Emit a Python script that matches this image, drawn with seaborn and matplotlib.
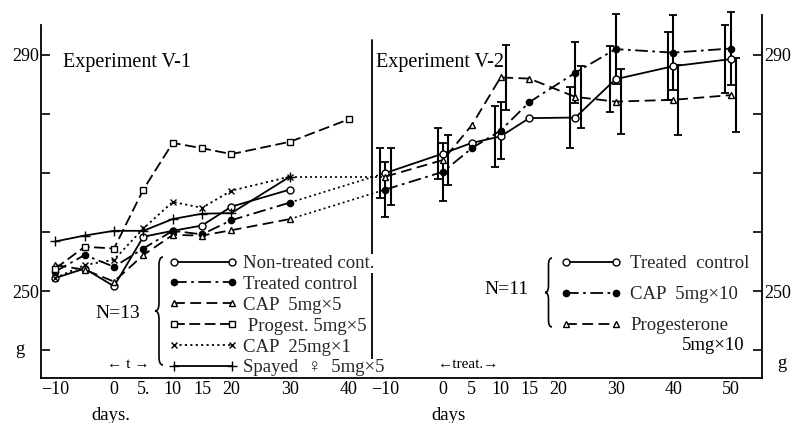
import numpy as np
import pandas as pd
import seaborn as sns
import matplotlib.pyplot as plt
from matplotlib.path import Path
from matplotlib.patches import PathPatch

# Experiment V-1 (N=13), body weight in g
days_v1 = [-10, -5, 0, 5, 10, 15, 20, 30]
nontreated_v1 = [252.2, 253.8, 250.8, 259.2, 260.2, 261.1, 264.3, 267.2]
treated_v1 = [253.3, 256.1, 254.1, 257.2, 260.2, 259.6, 262.0, 265.0]
cap5_v1 = [254.4, 253.6, 251.6, 256.1, 259.5, 259.4, 260.3, 262.2]
progest_days_v1 = [-10, -5, 0, 5, 10, 15, 20, 30, 40]
progest_v1 = [253.8, 257.5, 257.2, 267.2, 275.1, 274.2, 273.2, 275.3, 279.1]
cap25_v1 = [252.2, 254.4, 255.3, 260.6, 265.1, 264.1, 267.0, 269.4]
spayed_v1 = [258.4, 259.4, 260.2, 260.2, 262.2, 263.1, 263.2, 269.4]

# Experiment V-2 (N=11)
days_v2 = [-10, 0, 5, 10, 15, 23, 30, 40, 50]
treated_v2 = [270.0, 273.3, 275.1, 276.2, 279.3, 279.4, 285.9, 288.1, 289.3]
cap_v2 = [267.2, 270.2, 274.2, 277.2, 282.0, 287.0, 291.0, 290.4, 291.1]
prog_v2 = [269.4, 272.2, 278.1, 286.2, 286.0, 282.9, 282.1, 282.4, 283.2]
# error bars (half range, g) on selected days
err_days_v2 = [-10, 0, 10, 23, 30, 40, 50]
treated_err = [4.2, 4.4, 5.1, 5.2, 5.6, 5.8, 5.8]
cap_err = [4.6, 4.9, 4.8, 5.2, 5.9, 6.4, 6.2]
prog_err = [4.9, 4.2, 5.5, 5.2, 5.5, 5.9, 6.3]

xticks_v1 = [-10, 0, 5, 10, 15, 20, 30, 40]
xticklabels_v1 = ['\u221210', '0', '5.', '10', '15', '20', '30', '40']
xticks_v2 = [-10, 0, 5, 10, 15, 20, 30, 40, 50]
xticklabels_v2 = ['\u221210', '0', '5', '10', '15', '20', '30', '40', '50']

# layout: the V-2 panel shares the axis, shifted to the right
R0, RS = 56.05, 0.98
W, H = 792, 423

sns.set_theme(style='white', rc={'figure.figsize': (W / 100, H / 100), 'figure.dpi': 100})
plt.rcParams['font.family'] = ['Liberation Serif', 'DejaVu Serif', 'DejaVu Sans']
plt.rcParams['axes.linewidth'] = 1.3
plt.rcParams['axes.edgecolor'] = 'black'

fig = plt.figure()
ax = fig.add_axes([41 / W, (H - 378) / H, (762 - 41) / W, (378 - 5) / H])
ylo, yhi = 290 - (378 - 55) / 5.9, 290 + 50 / 5.9
ax.set_xlim((41 - 114) / 5.87, (762 - 114) / 5.87)
ax.set_ylim(ylo, yhi)

SOLID = '-'
DASHDOT = (0, (7, 2.5, 1.5, 2.5))
DASHED = (0, (6, 3))
PDASH = (0, (6, 2.5))
DOTTED = (0, (1.2, 1.8))


def line(x, y, ls, marker, mfc='white', ms=5, label=None, lw=1.3):
    sns.lineplot(x=x, y=y, ax=ax, color='black', linestyle=ls, lw=lw,
                 marker=marker, markersize=ms, markerfacecolor=mfc,
                 markeredgecolor='black', markeredgewidth=1.0,
                 label=label, legend=False, zorder=3)


v2x = lambda d: [R0 + RS * v for v in d]

# dotted links from the end of V-1 to the start of V-2
for yv1, yv2 in [(cap25_v1[-1], prog_v2[0]), (treated_v1[-1], treated_v2[0]),
                 (cap5_v1[-1], cap_v2[0])]:
    ax.plot([days_v1[-1], R0 + RS * days_v2[0]], [yv1, yv2], color='black',
            linestyle=DOTTED, lw=1.2, zorder=2)

line(days_v1, nontreated_v1, SOLID, 'o', label='Non-treated cont.')
line(days_v1, treated_v1, DASHDOT, 'o', mfc='black', ms=4.5, label='Treated control')
line(days_v1, cap5_v1, DASHED, '^', label='CAP  5mg\u00d75')
line(progest_days_v1, progest_v1, PDASH, 's', ms=4.5, label=' Progest. 5mg\u00d75')
line(days_v1, cap25_v1, DOTTED, 'x', ms=5, label='CAP  25mg\u00d71')
line(days_v1, spayed_v1, SOLID, '+', ms=7, label='Spayed  \u2640  5mg\u00d75')

line(v2x(days_v2), treated_v2, SOLID, 'o', label='Treated  control')
line(v2x(days_v2), cap_v2, DASHDOT, 'o', mfc='black', ms=4.5, label='CAP  5mg\u00d710')
line(v2x(days_v2), prog_v2, DASHED, '^', label='Progesterone')

dodge = {'treated': -0.9, 'cap': 0.0, 'prog': 0.9}
for key, ys, errs in [('treated', treated_v2, treated_err), ('cap', cap_v2, cap_err),
                      ('prog', prog_v2, prog_err)]:
    yy = [ys[days_v2.index(d)] for d in err_days_v2]
    xx = [R0 + RS * d + dodge[key] for d in err_days_v2]
    ax.errorbar(xx, yy, yerr=errs, fmt='none', ecolor='black', elinewidth=1.5,
                capsize=2.6, capthick=1.3, zorder=2.5)

# spines and divider
ax.spines['top'].set_visible(False)
ax.spines['left'].set_bounds(ylo, 295.1)
ax.spines['right'].set_bounds(ylo, 296.8)
ax.plot([43.95, 43.95], [ylo, 292.5], color='black', lw=1.3, zorder=1)

ax.set_yticks([250, 290])
ax.set_yticklabels(['250', '290'])
ax.set_yticks([240, 260, 270, 280], minor=True)
ax.tick_params(axis='y', which='both', direction='in', length=6.5, width=1.2,
               left=True, right=True, labelleft=True, labelright=True,
               labelsize=13, pad=1.5, colors='black')
ax.set_xticks(xticks_v1 + v2x(xticks_v2))
ax.set_xticklabels(xticklabels_v1 + xticklabels_v2)
ax.tick_params(axis='x', direction='in', length=4, width=1.2, labelsize=13,
               pad=2, colors='black')

# legends
handles, labels = ax.get_legend_handles_labels()
leg1 = ax.legend(handles[:6], labels[:6], loc='upper left', frameon=False, numpoints=2,
                 bbox_to_anchor=(168 / W, 1 - 255 / H), bbox_transform=fig.transFigure,
                 fontsize=13.5, handlelength=3.7, handletextpad=0.3,
                 labelspacing=0.2, borderpad=0, borderaxespad=0)
for t in leg1.get_texts():
    t.set_bbox(dict(facecolor='white', edgecolor='none', pad=0.5))
ax.add_artist(leg1)
leg2 = ax.legend(handles[6:], labels[6:], loc='upper left', frameon=False, numpoints=2,
                 bbox_to_anchor=(560 / W, 1 - 255 / H), bbox_transform=fig.transFigure,
                 fontsize=13.5, handlelength=3.3, handletextpad=0.45,
                 labelspacing=0.75, borderpad=0, borderaxespad=0)


def brace(px, top, bottom, width):
    mid = (top + bottom) / 2
    hx = px + width / 2
    pts = [(px + width, top), (hx, top), (hx, top + width), (hx, mid - width),
           (hx, mid), (px, mid), (hx, mid), (hx, mid + width), (hx, bottom - width),
           (hx, bottom), (px + width, bottom)]
    codes = [Path.MOVETO, Path.CURVE3, Path.CURVE3, Path.LINETO, Path.CURVE3, Path.CURVE3,
             Path.CURVE3, Path.CURVE3, Path.LINETO, Path.CURVE3, Path.CURVE3]
    verts = [(x / W, 1 - y / H) for x, y in pts]
    fig.add_artist(PathPatch(Path(verts, codes), transform=fig.transFigure,
                             fill=False, lw=1.2, edgecolor='black'))


brace(155, 257, 365, 8)
brace(545, 258, 327, 7)


def ftext(px, py, s, size=13.5, ha='left'):
    fig.text(px / W, 1 - py / H, s, fontsize=size, ha=ha, va='center', color='black')


ftext(63, 63, 'Experiment V-1', 14.5)
ftext(376, 62, 'Experiment V-2', 14.5)
ftext(118, 313, 'N=13', 14, 'center')
ftext(506, 290, 'N=11', 14, 'center')
ftext(682, 345, '5mg\u00d710', 13.5)
ftext(128, 364, '\u2190 t \u2192', 11, 'center')
ftext(469, 364, '\u2190treat.\u2192', 11, 'center')
ftext(111, 415, 'days.', 13.5, 'center')
ftext(448, 415, 'days', 13.5, 'center')
ftext(20, 349, 'g', 13.5, 'center')
ftext(782, 363, 'g', 13.5, 'center')

fig.savefig('out.png', dpi=100)
